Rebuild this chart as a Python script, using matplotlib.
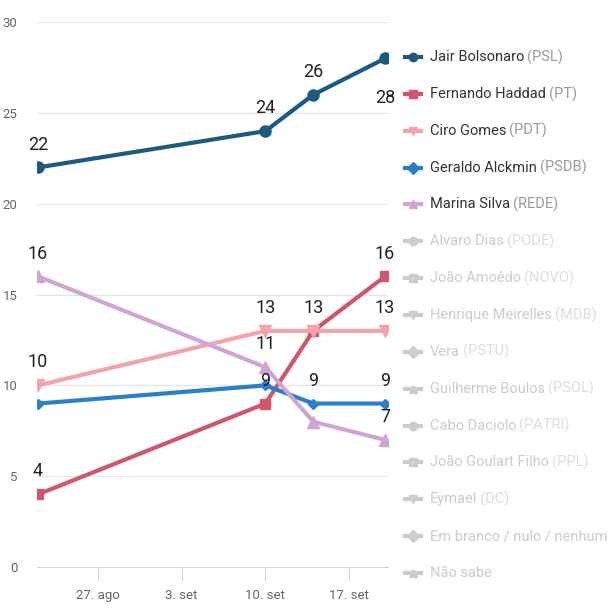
import datetime as dt
import matplotlib
matplotlib.use("Agg")
import matplotlib.pyplot as plt
import matplotlib.dates as mdates
from matplotlib.lines import Line2D

plt.rcParams['font.family'] = ['Roboto', 'DejaVu Sans']

dates = [dt.date(2018, 8, 22), dt.date(2018, 9, 10), dt.date(2018, 9, 14), dt.date(2018, 9, 20)]
tick_dates = [dt.date(2018, 8, 27), dt.date(2018, 9, 3), dt.date(2018, 9, 10), dt.date(2018, 9, 17)]
tick_labels = ["27. ago", "3. set", "10. set", "17. set"]

bolsonaro = [22, 24, 26, 28]
haddad = [4, 9, 13, 16]
ciro = [10, 13, 13, 13]
alckmin = [9, 10, 9, 9]
marina = [16, 11, 8, 7]

names = ["Jair Bolsonaro", "Fernando Haddad", "Ciro Gomes", "Geraldo Alckmin", "Marina Silva",
         "Alvaro Dias", "João Amoêdo", "Henrique Meirelles", "Vera", "Guilherme Boulos",
         "Cabo Daciolo", "João Goulart Filho", "Eymael", "Em branco / nulo / nenhum", "Não sabe"]
parties = ["(PSL)", "(PT)", "(PDT)", "(PSDB)", "(REDE)", "(PODE)", "(NOVO)", "(MDB)", "(PSTU)",
           "(PSOL)", "(PATRI)", "(PPL)", "(DC)", "", ""]

series = [bolsonaro, haddad, ciro, alckmin, marina]
colors = ["#1c5a80", "#d0566b", "#f5a3aa", "#2a80c8", "#cfa6d3"]
markers = ["o", "s", "v", "D", "^"]
msizes = [8, 7, 8, 5, 8]

# which point labels are shown: (series, point, dy in points)
shown = [(0, 0, 10), (0, 1, 10), (0, 2, 10), (0, 3, -22),
         (1, 0, 10), (1, 1, 10), (1, 2, 10), (1, 3, 10),
         (2, 0, 10), (2, 1, 10), (2, 3, 10),
         (3, 2, 10), (3, 3, 10),
         (4, 0, 10), (4, 1, 10), (4, 3, 10)]

fig = plt.figure(figsize=(6.14, 6.14), dpi=100)
ax = fig.add_axes([0.06, 0.0765, 0.572, 0.8875])

for vals, c, m, ms in zip(series, colors, markers, msizes):
    ax.plot(dates, vals, color=c, lw=3, marker=m, ms=ms, zorder=3)

for si, pi, dy in shown:
    ax.annotate(str(series[si][pi]), (dates[pi], series[si][pi]), xytext=(0, dy),
                textcoords="offset points", ha="center", va="bottom" if dy > 0 else "top",
                fontsize=13, color="#222222", zorder=5)

ax.set_ylim(0, 30)
ax.set_xlim(mdates.date2num(dates[0]) - 0.1, mdates.date2num(dates[-1]) + 0.25)
ax.set_yticks([0, 5, 10, 15, 20, 25, 30])
ax.set_xticks(tick_dates)
ax.set_xticklabels(tick_labels)
ax.grid(axis="y", color="#e6e6e6", lw=1)
ax.set_axisbelow(True)
for s in ["top", "right", "left"]:
    ax.spines[s].set_visible(False)
ax.spines["bottom"].set_color("#ccd6eb")
ax.tick_params(axis="x", colors="#ccd6eb", length=10, labelcolor="#666666", labelsize=9.5, pad=6)
ax.tick_params(axis="y", length=0, labelcolor="#666666", labelsize=9.5, pad=14)

# legend drawn by hand: name dark, party lighter
grey_markers = ["o", "s", "v", "D", "^"]
y0 = 1 - 57 / 614
step = 36.85 / 614
fs = 10.5
fig.canvas.draw()
for i, (n, p) in enumerate(zip(names, parties)):
    y = y0 - i * step
    active = i < 5
    c = colors[i] if active else "#cccccc"
    m = markers[i] if active else grey_markers[i % 5]
    fig.add_artist(Line2D([0.660, 0.686], [y, y], color=c, lw=3, transform=fig.transFigure))
    fig.add_artist(Line2D([0.673], [y], color=c, marker=m, ms=6, transform=fig.transFigure))
    t = fig.text(0.700, y, n, fontsize=fs, color="#333333" if active else "#cccccc",
                 va="center", ha="left")
    if p:
        bb = t.get_window_extent(renderer=fig.canvas.get_renderer())
        fig.text(bb.x1 / fig.bbox.width + 0.005, y, p, fontsize=fs,
                 color="#999999" if active else "#dddddd", va="center", ha="left")

fig.savefig("out.png", dpi=100)
